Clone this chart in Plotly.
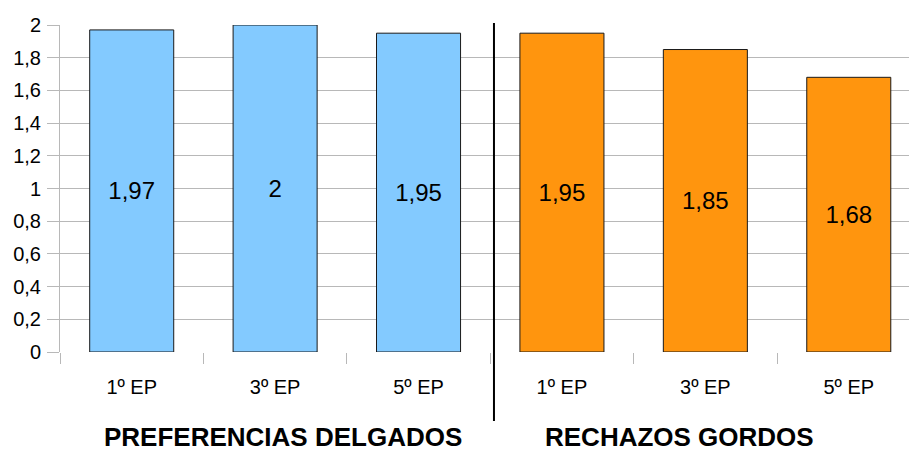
import plotly.graph_objects as go

categories = ["1º EP", "3º EP", "5º EP", "1º EP", "3º EP", "5º EP"]
preferencias_delgados = [1.97, 2.00, 1.95]
rechazos_gordos = [1.95, 1.85, 1.68]
group_labels = ["PREFERENCIAS DELGADOS", "RECHAZOS GORDOS"]
y_ticks = [0, 0.2, 0.4, 0.6, 0.8, 1.0, 1.2, 1.4, 1.6, 1.8, 2.0]

BLUE = "#83caff"
ORANGE = "#ff950e"
GRID = "#b8b8b8"
FONT = "Liberation Sans, Arial, sans-serif"

xs = list(range(len(categories)))
x_blue = xs[:3]
x_orange = xs[3:]


def fmt(v):
    return f"{v:g}".replace(".", ",")


fig = go.Figure()
for xv, vals, col in [(x_blue, preferencias_delgados, BLUE), (x_orange, rechazos_gordos, ORANGE)]:
    fig.add_trace(go.Bar(
        x=xv, y=vals, width=0.586,
        marker=dict(color=col, line=dict(color="#1a1a1a", width=1)),
        text=[fmt(v) for v in vals],
        textposition="inside", insidetextanchor="middle",
        textfont=dict(family=FONT, size=24, color="black"),
        textangle=0,
        cliponaxis=False,
        hoverinfo="skip",
    ))

# invisible trace to activate overlay axis for boundary ticks
fig.add_trace(go.Scatter(x=[xs[0]], y=[0], xaxis="x2", mode="markers",
                         marker=dict(opacity=0), showlegend=False, hoverinfo="skip"))

fig.update_layout(
    width=909, height=451,
    margin=dict(l=60, r=0, t=25, b=99),
    paper_bgcolor="white", plot_bgcolor="white",
    showlegend=False,
    separators=",.",
    font=dict(family=FONT, color="black"),
    xaxis=dict(
        range=[-0.5, 5.42],
        tickvals=xs, ticktext=categories,
        ticks="", showgrid=False, zeroline=False, showline=False,
        tickfont=dict(family=FONT, size=20, color="black"),
        ticklabelstandoff=21,
    ),
    xaxis2=dict(
        overlaying="x", matches="x", anchor="y",
        tickvals=[v - 0.5 for v in xs], ticks="outside", ticklen=11,
        tickcolor=GRID, tickwidth=1, showticklabels=False,
        showgrid=False, zeroline=False, showline=False,
    ),
    yaxis=dict(
        range=[0, 2], tickvals=y_ticks,
        ticktext=[fmt(v) for v in y_ticks],
        showgrid=True, gridcolor=GRID, gridwidth=1,
        zeroline=False, showline=True, linecolor=GRID, linewidth=1,
        ticks="outside", ticklen=12, tickcolor=GRID, tickwidth=1,
        tickfont=dict(family=FONT, size=20, color="black"),
        ticklabelstandoff=2,
    ),
    shapes=[dict(type="line", xref="x", yref="paper",
                 x0=2.526, x1=2.526, y0=-0.211, y1=1.006,
                 line=dict(color="black", width=2))],
    annotations=[
        dict(text=f"<b>{group_labels[0]}</b>", xref="x", yref="paper",
             x=1.056, y=-0.26, showarrow=False, yanchor="middle",
             font=dict(family=FONT, size=26, color="black")),
        dict(text=f"<b>{group_labels[1]}</b>", xref="x", yref="paper",
             x=3.82, y=-0.26, showarrow=False, yanchor="middle",
             font=dict(family=FONT, size=26, color="black")),
    ],
)

fig.write_html("out.html")
